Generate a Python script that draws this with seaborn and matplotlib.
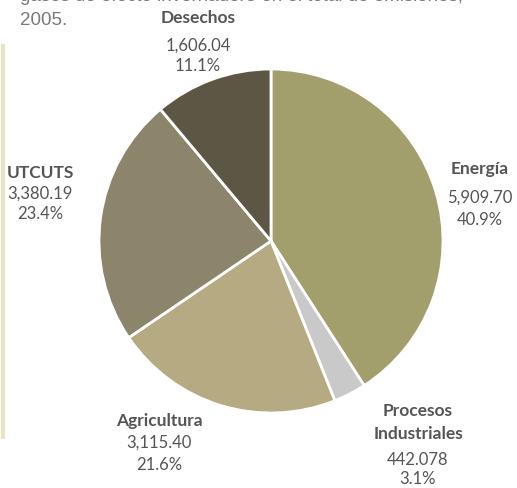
import matplotlib
matplotlib.use("Agg")
import matplotlib.pyplot as plt
import seaborn as sns

categories = ["Energía", "Procesos\nIndustriales", "Agricultura", "UTCUTS", "Desechos"]
values = [5909.70, 442.078, 3115.40, 3380.19, 1606.04]
value_labels = ["5,909.70", "442.078", "3,115.40", "3,380.19", "1,606.04"]
pct_labels = ["40.9%", "3.1%", "21.6%", "23.4%", "11.1%"]
colors = ["#a29f6d", "#c9c9c9", "#b6aa82", "#8c846b", "#5e5645"]

sns.set_theme(style="white")
plt.rcParams['font.family'] = ['Lato', 'DejaVu Sans']

W, H = 517, 489
fig = plt.figure(figsize=(W / 100, H / 100), dpi=100)
ax = fig.add_axes([0, 0, 1, 1])
ax.set_xlim(0, W)
ax.set_ylim(0, H)
ax.set_aspect("equal")
ax.axis("off")

ax.pie(values, colors=colors, startangle=90, counterclock=False,
       center=(271, H - 242), radius=172,
       wedgeprops=dict(edgecolor="white", linewidth=2))
ax.set_xlim(0, W)
ax.set_ylim(0, H)

# left decorative bar
ax.plot([3, 3], [H - 45, H - 440], color="#e9e3c8", lw=3, solid_capstyle="butt")

# title (partially clipped at the top, as in the reference)
ax.text(20, H + 3, "gases de efecto invernadero en el total de emisiones,",
        fontsize=13.5, color="#7a7a7a", family=["Liberation Sans"], va="center", ha="left")
ax.text(20, H - 21, "2005.", fontsize=13.5, color="#7a7a7a",
        family=["Liberation Sans"], va="center", ha="left")

txt = "#555555"
pos = {
    0: (480, [169], 198, 220),
    1: (418, [411, 434], 460, 479),
    2: (159, [421], 443, 465),
    3: (40, [173], 194, 214),
    4: (198, [18], 46, 66),
}
for i, name in enumerate(categories):
    x, ys, yv, yp = pos[i]
    for line, yy in zip(name.split("\n"), ys):
        ax.text(x, H - yy, line, fontsize=12.5, fontweight="bold", color=txt,
                ha="center", va="center")
    ax.text(x, H - yv, value_labels[i], fontsize=12, color=txt, ha="center", va="center")
    ax.text(x, H - yp, pct_labels[i], fontsize=12, color=txt, ha="center", va="center")

fig.savefig("out.png", dpi=100)
